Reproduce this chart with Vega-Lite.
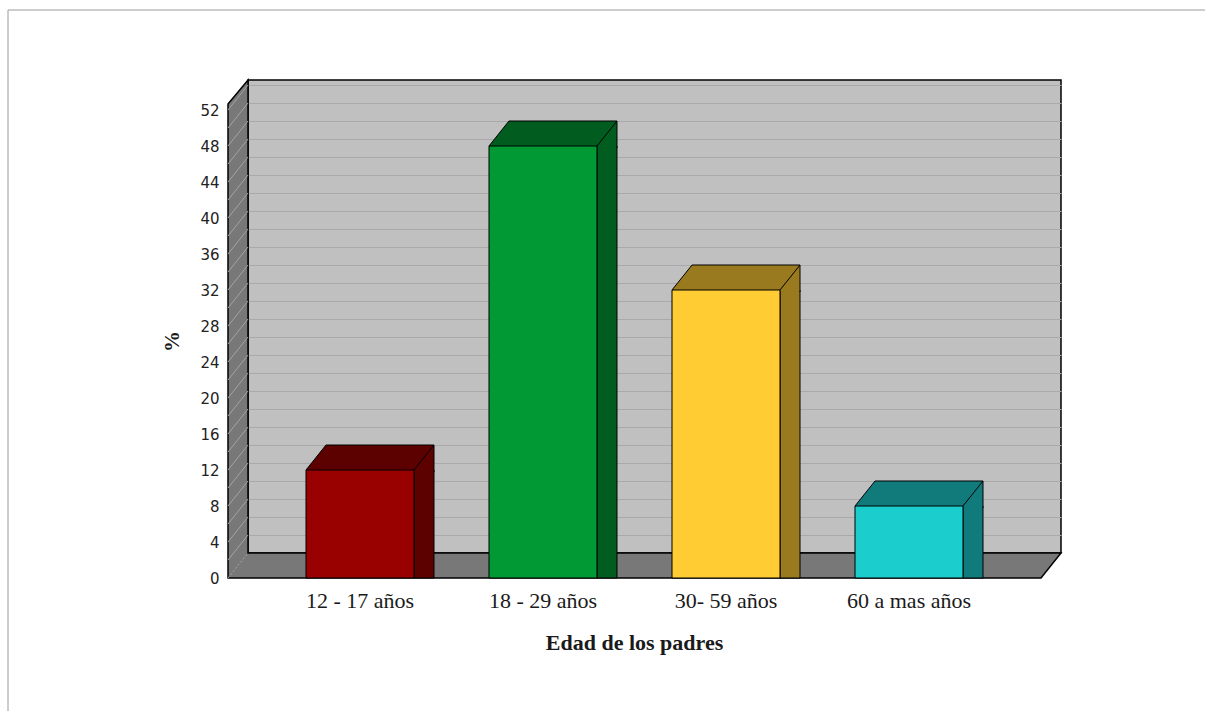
{
  "$schema": "https://vega.github.io/schema/vega-lite/v6.json",
  "autosize": "none",
  "width": 813,
  "height": 473,
  "padding": {"left": 248, "top": 80, "right": 144, "bottom": 158},
  "background": "white",
  "view": {"fill": "#c0c0c0", "stroke": "#000000", "strokeWidth": 1.5},
  "datasets": {
    "edad": [
      {"edad": "12 - 17 años", "pct": 12},
      {"edad": "18 - 29 años", "pct": 48},
      {"edad": "30- 59 años", "pct": 32},
      {"edad": "60 a mas años", "pct": 8}
    ]
  },
  "data": {"name": "edad"},
  "resolve": {"scale": {"fill": "independent"}},
  "layer": [
    {
      "data": {"values": [{"pieza": "marco"}]},
      "mark": {"type": "point", "shape": "M551,-306.5L-646.5,-306.5L-646.5,395", "size": 4, "filled": false, "stroke": "#9a9a9a", "strokeWidth": 1, "opacity": 1},
      "encoding": {}
    },
    {
      "data": {"values": [{"pieza": "pared y piso"}]},
      "mark": {"type": "point", "shape": "M-426.5,-212.5L-406.5,-236.5L-406.5,236.5L406.5,236.5L386.5,261.5L-426.5,261.5Z", "size": 4, "filled": true, "fill": "#787878", "stroke": "#000000", "strokeWidth": 1.5, "opacity": 1},
      "encoding": {}
    },
    {
      "data": {"values": [{"pieza": "lineas pared"}]},
      "mark": {"type": "point", "shape": "M-426.5,243.5L-406.5,218.5M-426.5,225.5L-406.5,200.5M-426.5,207.5L-406.5,182.5M-426.5,189.5L-406.5,164.5M-426.5,171.5L-406.5,146.5M-426.5,153.5L-406.5,128.5M-426.5,135.5L-406.5,110.5M-426.5,117.5L-406.5,92.5M-426.5,99.5L-406.5,74.5M-426.5,81.5L-406.5,56.5M-426.5,63.5L-406.5,38.5M-426.5,45.5L-406.5,20.5M-426.5,27.5L-406.5,2.5M-426.5,9.5L-406.5,-15.5M-426.5,-8.5L-406.5,-33.5M-426.5,-26.5L-406.5,-51.5M-426.5,-44.5L-406.5,-69.5M-426.5,-62.5L-406.5,-87.5M-426.5,-80.5L-406.5,-105.5M-426.5,-98.5L-406.5,-123.5M-426.5,-116.5L-406.5,-141.5M-426.5,-134.5L-406.5,-159.5M-426.5,-152.5L-406.5,-177.5M-426.5,-170.5L-406.5,-195.5M-426.5,-188.5L-406.5,-213.5M-426.5,-206.5L-406.5,-231.5", "size": 4, "filled": false, "stroke": "#a4a4a4", "strokeWidth": 1, "opacity": 1},
      "encoding": {}
    },
    {
      "data": {"values": [{"pieza": "linea esquina"}]},
      "mark": {"type": "point", "shape": "M-426.5,261.5L-406.5,236.5", "size": 4, "filled": false, "stroke": "#a4a4a4", "strokeWidth": 1, "strokeDash": [2, 2], "opacity": 1},
      "encoding": {}
    },
    {
      "mark": {"type": "bar", "width": 20, "xOffset": 44, "x2Offset": 44, "yOffset": 25, "y2Offset": 25, "stroke": "#000000", "strokeWidth": 1},
      "encoding": {
        "x": {
          "field": "edad", "type": "nominal", "sort": null,
          "scale": {"type": "band", "paddingInner": 0.40984, "paddingOuter": 0.42623},
          "axis": {
            "orient": "bottom", "offset": 25, "domain": false, "ticks": false, "tickSize": 0, "grid": false,
            "labelAngle": 0, "labelOffset": -20, "labelPadding": 22, "labelBaseline": "middle",
            "labelFont": "Liberation Serif", "labelFontSize": 22, "labelColor": "#1a1a1a",
            "title": "Edad de los padres", "titleFont": "Liberation Serif", "titleFontSize": 22, "titleFontWeight": "bold",
            "titleColor": "#1a1a1a", "titleX": 386, "titleY": 64, "titleAlign": "center", "titleBaseline": "middle"
          }
        },
        "y": {
          "field": "pct", "type": "quantitative",
          "scale": {"domain": [0, 52.5556], "nice": false, "zero": true},
          "axis": {
            "values": [0, 2, 4, 6, 8, 10, 12, 14, 16, 18, 20, 22, 24, 26, 28, 30, 32, 34, 36, 38, 40, 42, 44, 46, 48, 50, 52],
            "tickCount": 200, "format": "d",
            "grid": true, "gridColor": "#a9a9a9", "gridWidth": 1,
            "domain": false, "ticks": false, "tickSize": 0,
            "labelExpr": "datum.value % 4 === 0 ? datum.label : ''",
            "labelOffset": 25, "labelPadding": 29, "labelBaseline": "middle", "labelFlush": false, "labelOverlap": false,
            "labelFont": "DejaVu Sans", "labelFontSize": 15, "labelColor": "#222222",
            "title": "%", "titleFont": "Liberation Serif", "titleFontSize": 21, "titleFontWeight": "bold", "titleColor": "#1a1a1a",
            "titleAngle": -90, "titleX": -76, "titleY": 261, "titleAlign": "center", "titleBaseline": "middle"
          }
        },
        "y2": {"datum": 0},
        "fill": {
          "field": "edad", "type": "nominal", "sort": null, "legend": null,
          "scale": {"domain": ["12 - 17 años", "18 - 29 años", "30- 59 años", "60 a mas años"], "range": ["#5c0000", "#005c1f", "#997a1f", "#117b7b"]}
        }
      }
    },
    {
      "mark": {"type": "point", "shape": "M-74,25L-54,0L54,0L54,26L34,26L34,25Z", "size": 4, "filled": true, "strokeWidth": 0, "opacity": 1},
      "encoding": {
        "x": {"field": "edad", "type": "nominal", "sort": null},
        "y": {"field": "pct", "type": "quantitative"},
        "fill": {
          "field": "edad", "type": "nominal", "sort": null, "legend": null,
          "scale": {"domain": ["12 - 17 años", "18 - 29 años", "30- 59 años", "60 a mas años"], "range": ["#5c0000", "#005c1f", "#997a1f", "#117b7b"]}
        }
      }
    },
    {
      "mark": {"type": "point", "shape": "M-74,25L-54,0L54,0L34,25M54,0L54,27", "size": 4, "filled": false, "stroke": "#000000", "strokeWidth": 1, "opacity": 1},
      "encoding": {
        "x": {"field": "edad", "type": "nominal", "sort": null},
        "y": {"field": "pct", "type": "quantitative"}
      }
    },
    {
      "mark": {"type": "bar", "xOffset": -20, "x2Offset": -20, "yOffset": 25, "y2Offset": 25, "stroke": "#000000", "strokeWidth": 1},
      "encoding": {
        "x": {"field": "edad", "type": "nominal", "sort": null},
        "y": {"field": "pct", "type": "quantitative"},
        "y2": {"datum": 0},
        "fill": {
          "field": "edad", "type": "nominal", "sort": null, "legend": null,
          "scale": {"domain": ["12 - 17 años", "18 - 29 años", "30- 59 años", "60 a mas años"], "range": ["#990000", "#009933", "#ffcc33", "#1ccdcd"]}
        }
      }
    }
  ]
}
